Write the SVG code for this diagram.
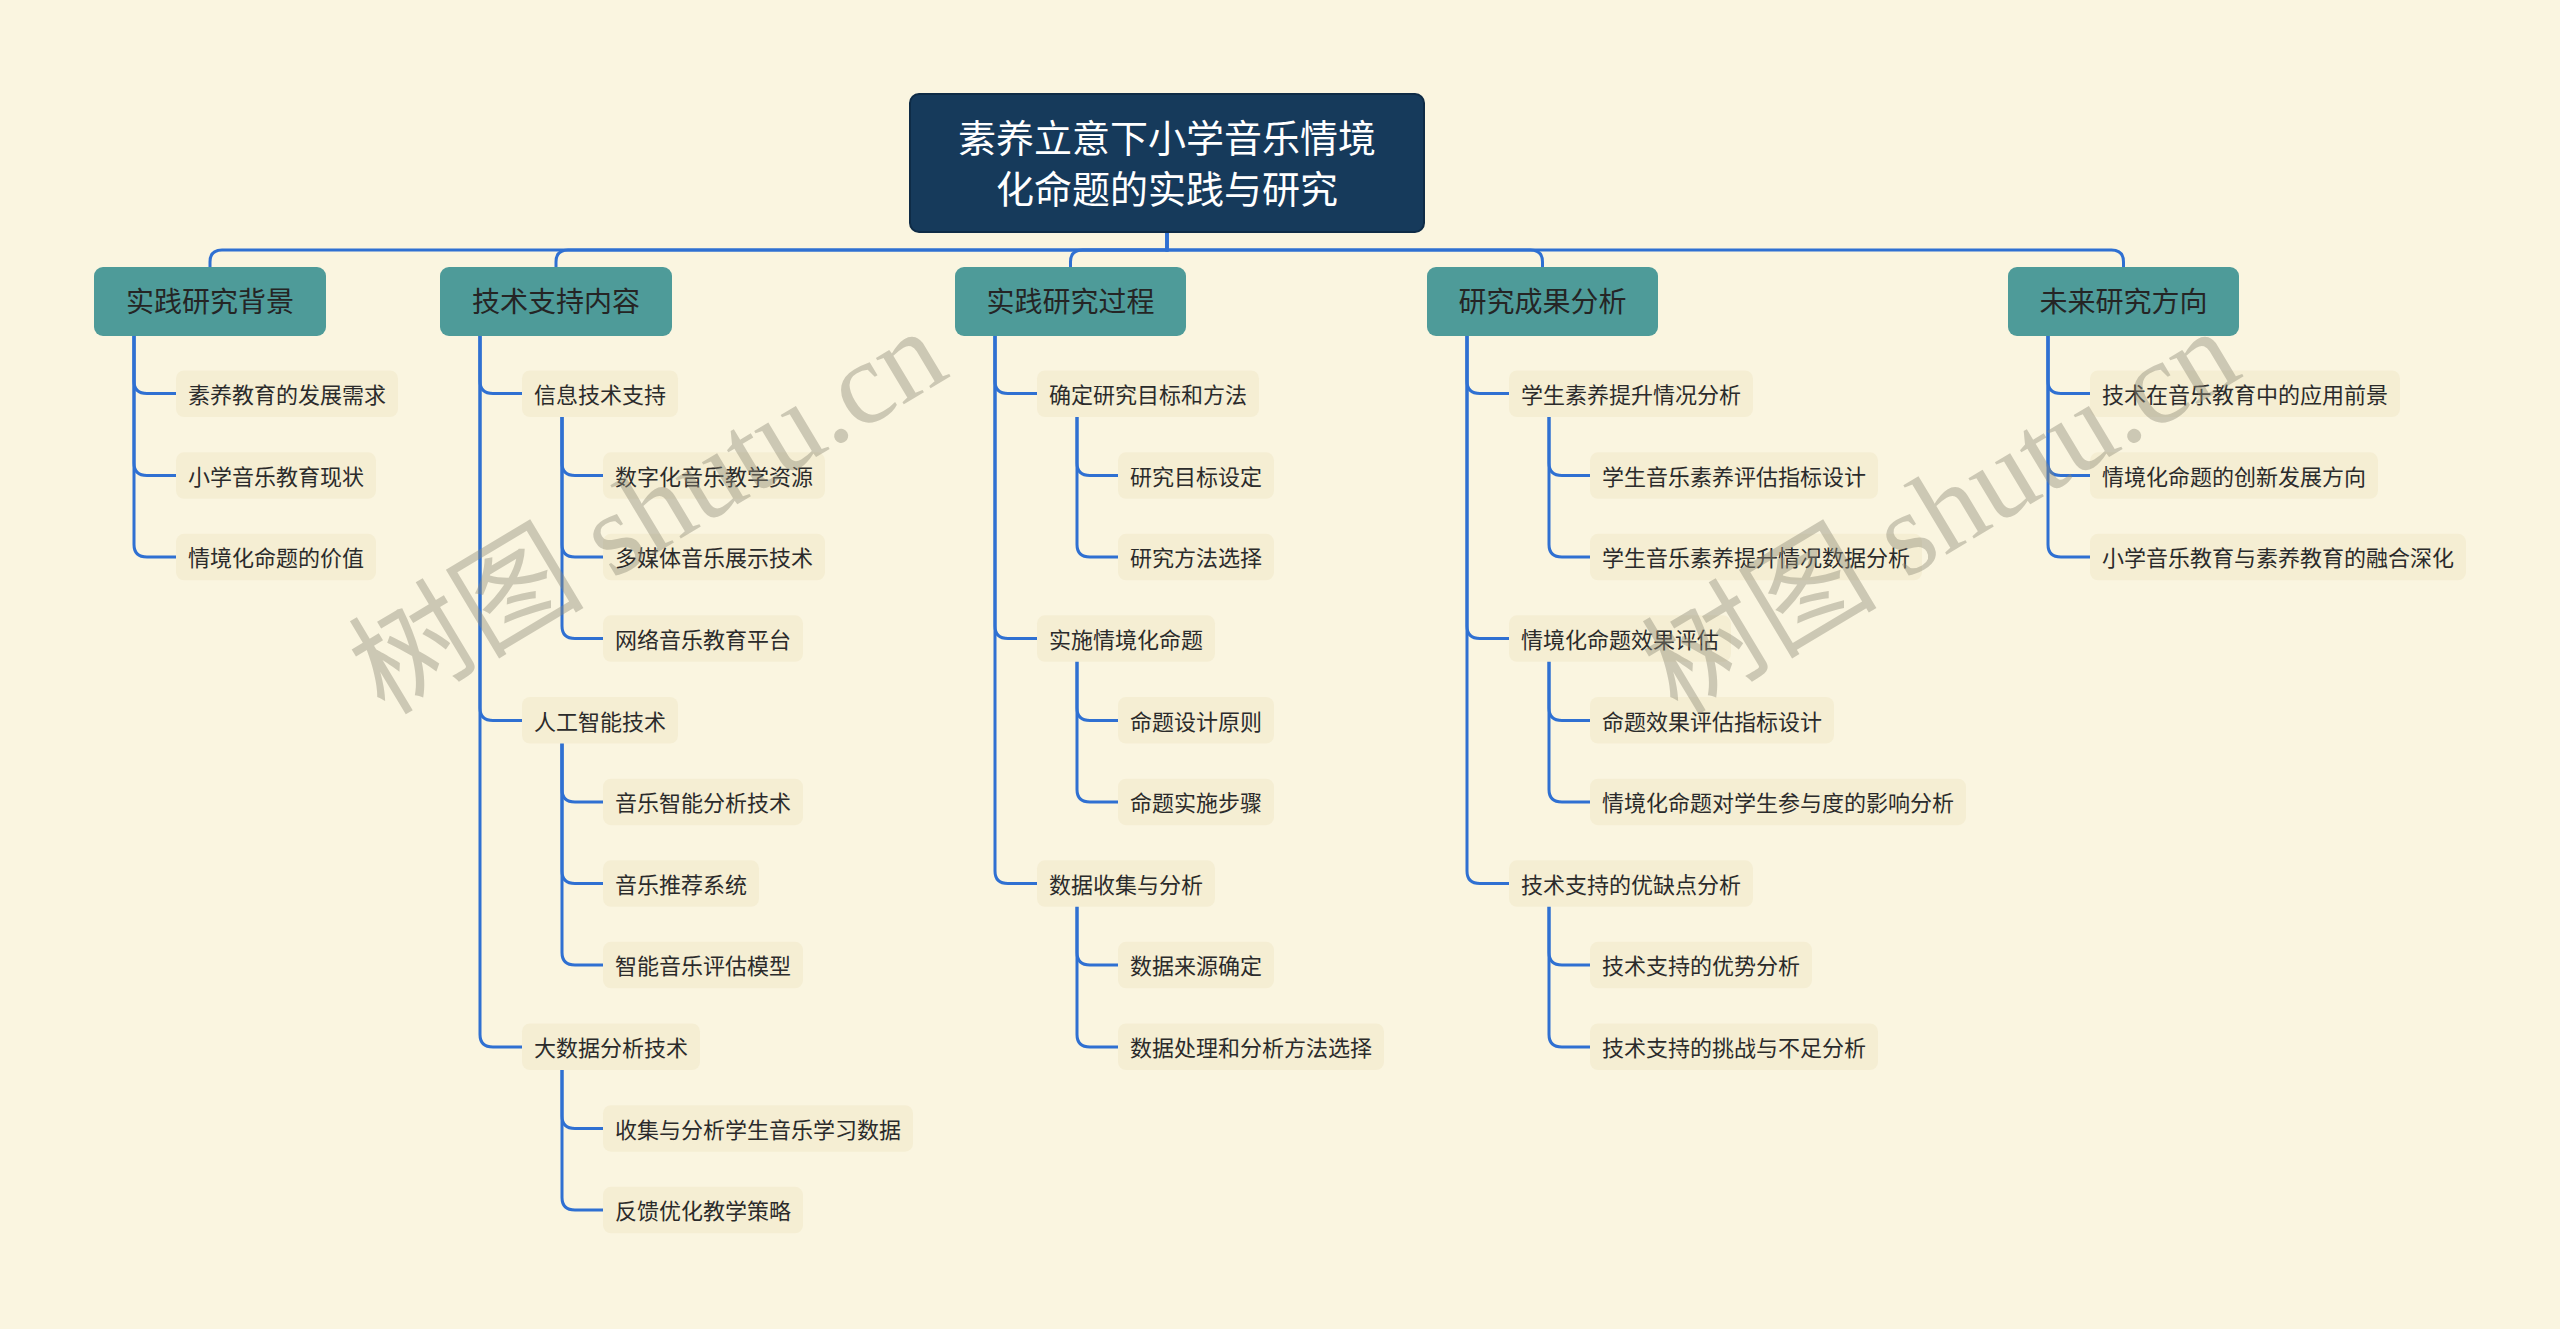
<svg xmlns="http://www.w3.org/2000/svg" width="2560" height="1329" viewBox="0 0 2560 1329">
<style>
.bg{fill:#FAF5E0}
.root rect{fill:#163A5B;stroke:#0E2B46;stroke-width:2}
.root text{fill:#FFFFFF;font-size:38px}
.l1 rect{fill:#4E9B99}
.l1 text{fill:#252525;font-size:28px}
.l2 rect,.l3 rect{fill:#F5EED3}
.l2 text,.l3 text{fill:#2B2B2B;font-size:22px}
text{font-family:"Noto Sans CJK SC","Noto Sans",sans-serif;text-anchor:middle;dominant-baseline:central}
.wm{font-family:"Liberation Serif","Noto Sans CJK SC",serif;font-size:118px;fill:#8F8B78;opacity:0.42}
#connectors path{fill:none;stroke:#2F70D2;stroke-width:3;stroke-linecap:round}
</style>
<rect class="bg" x="0" y="0" width="2560" height="1329"/>

<g id="connectors">
<path d="M1167,232 V250 H222 Q210,250 210,262 V267"/>
<path d="M1167,232 V250 H568 Q556,250 556,262 V267"/>
<path d="M1167,232 V250 H1082.5 Q1070.5,250 1070.5,262 V267"/>
<path d="M1167,232 V250 H1530.5 Q1542.5,250 1542.5,262 V267"/>
<path d="M1167,232 V250 H2111.5 Q2123.5,250 2123.5,262 V267"/>
<path d="M134,336 V381 Q134,393.5 147,393.5 H176"/>
<path d="M134,336 V463 Q134,475.5 147,475.5 H176"/>
<path d="M134,336 V544.5 Q134,557 147,557 H176"/>
<path d="M480,336 V381 Q480,393.5 493,393.5 H522"/>
<path d="M480,336 V708 Q480,720.5 493,720.5 H522"/>
<path d="M480,336 V1034.5 Q480,1047 493,1047 H522"/>
<path d="M562,417 V463 Q562,475.5 575,475.5 H603"/>
<path d="M562,417 V544.5 Q562,557 575,557 H603"/>
<path d="M562,417 V626 Q562,638.5 575,638.5 H603"/>
<path d="M562,743.5 V789.5 Q562,802 575,802 H603"/>
<path d="M562,743.5 V871 Q562,883.5 575,883.5 H603"/>
<path d="M562,743.5 V952.5 Q562,965 575,965 H603"/>
<path d="M562,1070 V1116 Q562,1128.5 575,1128.5 H603"/>
<path d="M562,1070 V1197.5 Q562,1210 575,1210 H603"/>
<path d="M995,336 V381 Q995,393.5 1008,393.5 H1037"/>
<path d="M995,336 V626 Q995,638.5 1008,638.5 H1037"/>
<path d="M995,336 V871 Q995,883.5 1008,883.5 H1037"/>
<path d="M1077,417 V463 Q1077,475.5 1090,475.5 H1118"/>
<path d="M1077,417 V544.5 Q1077,557 1090,557 H1118"/>
<path d="M1077,661.5 V708 Q1077,720.5 1090,720.5 H1118"/>
<path d="M1077,661.5 V789.5 Q1077,802 1090,802 H1118"/>
<path d="M1077,906.5 V952.5 Q1077,965 1090,965 H1118"/>
<path d="M1077,906.5 V1034.5 Q1077,1047 1090,1047 H1118"/>
<path d="M1467,336 V381 Q1467,393.5 1480,393.5 H1509"/>
<path d="M1467,336 V626 Q1467,638.5 1480,638.5 H1509"/>
<path d="M1467,336 V871 Q1467,883.5 1480,883.5 H1509"/>
<path d="M1549,417 V463 Q1549,475.5 1562,475.5 H1590"/>
<path d="M1549,417 V544.5 Q1549,557 1562,557 H1590"/>
<path d="M1549,661.5 V708 Q1549,720.5 1562,720.5 H1590"/>
<path d="M1549,661.5 V789.5 Q1549,802 1562,802 H1590"/>
<path d="M1549,906.5 V952.5 Q1549,965 1562,965 H1590"/>
<path d="M1549,906.5 V1034.5 Q1549,1047 1562,1047 H1590"/>
<path d="M2048,336 V381 Q2048,393.5 2061,393.5 H2090"/>
<path d="M2048,336 V463 Q2048,475.5 2061,475.5 H2090"/>
<path d="M2048,336 V544.5 Q2048,557 2061,557 H2090"/>
</g>

<g id="root" class="root">
<rect x="910" y="94" width="514" height="138" rx="9"/>
<text x="1167" y="135">素养立意下小学音乐情境</text>
<text x="1167" y="186">化命题的实践与研究</text>
</g>

<g id="n1" class="l1"><rect x="94" y="267" width="232" height="69" rx="9"/><text x="210" y="299.5">实践研究背景</text></g>
<g id="n2" class="l1"><rect x="440" y="267" width="232" height="69" rx="9"/><text x="556" y="299.5">技术支持内容</text></g>
<g id="n3" class="l1"><rect x="955" y="267" width="231" height="69" rx="9"/><text x="1070.5" y="299.5">实践研究过程</text></g>
<g id="n4" class="l1"><rect x="1427" y="267" width="231" height="69" rx="9"/><text x="1542.5" y="299.5">研究成果分析</text></g>
<g id="n5" class="l1"><rect x="2008" y="267" width="231" height="69" rx="9"/><text x="2123.5" y="299.5">未来研究方向</text></g>

<g id="n1-1" class="l2"><rect x="176" y="370.5" width="222" height="46.5" rx="8"/><text x="287" y="393">素养教育的发展需求</text></g>
<g id="n1-2" class="l2"><rect x="176" y="452.3" width="200" height="46.5" rx="8"/><text x="276" y="474.8">小学音乐教育现状</text></g>
<g id="n1-3" class="l2"><rect x="176" y="533.8" width="200" height="46.5" rx="8"/><text x="276" y="556.3">情境化命题的价值</text></g>

<g id="n2-1" class="l2"><rect x="522" y="370.5" width="156" height="46.5" rx="8"/><text x="600" y="393">信息技术支持</text></g>
<g id="n2-1-1" class="l3"><rect x="603" y="452.3" width="222" height="46.5" rx="8"/><text x="714" y="474.8">数字化音乐教学资源</text></g>
<g id="n2-1-2" class="l3"><rect x="603" y="533.8" width="222" height="46.5" rx="8"/><text x="714" y="556.3">多媒体音乐展示技术</text></g>
<g id="n2-1-3" class="l3"><rect x="603" y="615.3" width="200" height="46.5" rx="8"/><text x="703" y="637.8">网络音乐教育平台</text></g>
<g id="n2-2" class="l2"><rect x="522" y="697" width="156" height="46.5" rx="8"/><text x="600" y="719.5">人工智能技术</text></g>
<g id="n2-2-1" class="l3"><rect x="603" y="778.7" width="200" height="46.5" rx="8"/><text x="703" y="801.2">音乐智能分析技术</text></g>
<g id="n2-2-2" class="l3"><rect x="603" y="860.3" width="156" height="46.5" rx="8"/><text x="681" y="882.8">音乐推荐系统</text></g>
<g id="n2-2-3" class="l3"><rect x="603" y="941.8" width="200" height="46.5" rx="8"/><text x="703" y="964.3">智能音乐评估模型</text></g>
<g id="n2-3" class="l2"><rect x="522" y="1023.5" width="178" height="46.5" rx="8"/><text x="611" y="1046">大数据分析技术</text></g>
<g id="n2-3-1" class="l3"><rect x="603" y="1105.2" width="310" height="46.5" rx="8"/><text x="758" y="1127.7">收集与分析学生音乐学习数据</text></g>
<g id="n2-3-2" class="l3"><rect x="603" y="1186.8" width="200" height="46.5" rx="8"/><text x="703" y="1209.3">反馈优化教学策略</text></g>

<g id="n3-1" class="l2"><rect x="1037" y="370.5" width="222" height="46.5" rx="8"/><text x="1148" y="393">确定研究目标和方法</text></g>
<g id="n3-1-1" class="l3"><rect x="1118" y="452.3" width="156" height="46.5" rx="8"/><text x="1196" y="474.8">研究目标设定</text></g>
<g id="n3-1-2" class="l3"><rect x="1118" y="533.8" width="156" height="46.5" rx="8"/><text x="1196" y="556.3">研究方法选择</text></g>
<g id="n3-2" class="l2"><rect x="1037" y="615.3" width="178" height="46.5" rx="8"/><text x="1126" y="637.8">实施情境化命题</text></g>
<g id="n3-2-1" class="l3"><rect x="1118" y="697" width="156" height="46.5" rx="8"/><text x="1196" y="719.5">命题设计原则</text></g>
<g id="n3-2-2" class="l3"><rect x="1118" y="778.7" width="156" height="46.5" rx="8"/><text x="1196" y="801.2">命题实施步骤</text></g>
<g id="n3-3" class="l2"><rect x="1037" y="860.3" width="178" height="46.5" rx="8"/><text x="1126" y="882.8">数据收集与分析</text></g>
<g id="n3-3-1" class="l3"><rect x="1118" y="941.8" width="156" height="46.5" rx="8"/><text x="1196" y="964.3">数据来源确定</text></g>
<g id="n3-3-2" class="l3"><rect x="1118" y="1023.5" width="266" height="46.5" rx="8"/><text x="1251" y="1046">数据处理和分析方法选择</text></g>

<g id="n4-1" class="l2"><rect x="1509" y="370.5" width="244" height="46.5" rx="8"/><text x="1631" y="393">学生素养提升情况分析</text></g>
<g id="n4-1-1" class="l3"><rect x="1590" y="452.3" width="288" height="46.5" rx="8"/><text x="1734" y="474.8">学生音乐素养评估指标设计</text></g>
<g id="n4-1-2" class="l3"><rect x="1590" y="533.8" width="332" height="46.5" rx="8"/><text x="1756" y="556.3">学生音乐素养提升情况数据分析</text></g>
<g id="n4-2" class="l2"><rect x="1509" y="615.3" width="222" height="46.5" rx="8"/><text x="1620" y="637.8">情境化命题效果评估</text></g>
<g id="n4-2-1" class="l3"><rect x="1590" y="697" width="244" height="46.5" rx="8"/><text x="1712" y="719.5">命题效果评估指标设计</text></g>
<g id="n4-2-2" class="l3"><rect x="1590" y="778.7" width="376" height="46.5" rx="8"/><text x="1778" y="801.2">情境化命题对学生参与度的影响分析</text></g>
<g id="n4-3" class="l2"><rect x="1509" y="860.3" width="244" height="46.5" rx="8"/><text x="1631" y="882.8">技术支持的优缺点分析</text></g>
<g id="n4-3-1" class="l3"><rect x="1590" y="941.8" width="222" height="46.5" rx="8"/><text x="1701" y="964.3">技术支持的优势分析</text></g>
<g id="n4-3-2" class="l3"><rect x="1590" y="1023.5" width="288" height="46.5" rx="8"/><text x="1734" y="1046">技术支持的挑战与不足分析</text></g>

<g id="n5-1" class="l2"><rect x="2090" y="370.5" width="310" height="46.5" rx="8"/><text x="2245" y="393">技术在音乐教育中的应用前景</text></g>
<g id="n5-2" class="l2"><rect x="2090" y="452.3" width="288" height="46.5" rx="8"/><text x="2234" y="474.8">情境化命题的创新发展方向</text></g>
<g id="n5-3" class="l2"><rect x="2090" y="533.8" width="376" height="46.5" rx="8"/><text x="2278" y="556.3">小学音乐教育与素养教育的融合深化</text></g>

<g id="watermarks">
<text class="wm" transform="translate(648,512) rotate(-31)">树图 shutu.cn</text>
<text class="wm" transform="translate(1941,512) rotate(-31)">树图 shutu.cn</text>
</g>
</svg>
